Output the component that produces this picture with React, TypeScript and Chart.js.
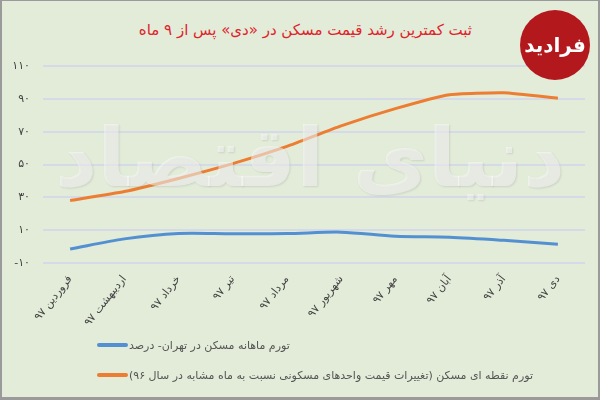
import React, { useEffect, useRef } from 'react';
import Chart from 'chart.js/auto';

// دسته‌ها و داده‌ها (خوانده شده از تصویر)
const months = ['فروردین ۹۷', 'اردیبهشت ۹۷', 'خرداد ۹۷', 'تیر ۹۷', 'مرداد ۹۷', 'شهریور ۹۷', 'مهر ۹۷', 'آبان ۹۷', 'آذر ۹۷', 'دی ۹۷'];
const monthlyInflation = [-1.5, 4.7, 8, 7.8, 7.9, 8.8, 6.3, 5.7, 3.8, 1.4];
const pointInflation = [28, 33.5, 41.5, 50.5, 61, 73.5, 84, 92.5, 93.7, 90.4];
const seriesLabels = [
    'تورم ماهانه مسکن در تهران- درصد',
    'تورم نقطه ای مسکن (تغییرات قیمت واحدهای مسکونی نسبت به ماه مشابه در سال ۹۶)',
];
const seriesColors = ['#5390d2', '#ed7d31'];
const yTicks = [-10, 10, 30, 50, 70, 90, 110];
const persianDigits = ['۰', '۱', '۲', '۳', '۴', '۵', '۶', '۷', '۸', '۹'];

const titleText = 'ثبت کمترین رشد قیمت مسکن در «دی» پس از ۹ ماه';

const toPersian = (v: number | string) => String(v).replace(/\d/g, d => persianDigits[+d]);

const FONT = '"DejaVu Sans", sans-serif';

const App = () => {
    const chartContainer = useRef<HTMLCanvasElement>(null);

    useEffect(() => {
        let myChart: Chart<"line", number[], string> | null = null;

        if (chartContainer.current) {
            const ctx = chartContainer.current.getContext('2d');

            if (ctx) {
                myChart = new Chart(ctx, {
                    type: 'line',
                    data: {
                        labels: months,
                        datasets: [
                            {
                                label: seriesLabels[0],
                                data: monthlyInflation,
                                borderColor: seriesColors[0],
                                borderWidth: 3,
                                pointRadius: 0,
                                tension: 0.3,
                            },
                            {
                                label: seriesLabels[1],
                                data: pointInflation,
                                borderColor: seriesColors[1],
                                borderWidth: 3,
                                pointRadius: 0,
                                tension: 0.15,
                            },
                        ],
                    },
                    options: {
                        animation: false,
                        responsive: false,
                        maintainAspectRatio: false,
                        layout: { padding: { top: 66, right: 15, bottom: 57, left: 0 } },
                        plugins: {
                            legend: { display: false },
                            tooltip: { enabled: false },
                        },
                        scales: {
                            x: {
                                offset: true,
                                grid: { display: false },
                                border: { display: false },
                                ticks: {
                                    autoSkip: false,
                                    minRotation: 52,
                                    maxRotation: 52,
                                    padding: 2,
                                    color: '#444',
                                    font: { family: FONT, size: 11 },
                                },
                                afterFit: (scale) => { scale.height = 80; },
                            },
                            y: {
                                min: -10,
                                max: 110,
                                grid: { color: 'rgba(210,215,235,0.85)', lineWidth: 2, drawTicks: false },
                                border: { display: false },
                                ticks: {
                                    padding: 13,
                                    color: '#444',
                                    font: { family: FONT, size: 11 },
                                    callback: (v) => toPersian(v),
                                },
                                afterBuildTicks: (axis) => { axis.ticks = yTicks.map(v => ({ value: v })); },
                                afterFit: (scale) => { scale.width = 43; },
                            },
                        },
                    },
                });
            }
        }

        return () => {
            if (myChart && typeof myChart.destroy === 'function') {
                myChart.destroy();
            }
        };
    }, []);

    return (
        <div style={{ position: 'fixed', left: 0, top: 0, width: 600, height: 400, background: '#e2ecd9', overflow: 'hidden', fontFamily: FONT }}>
            <div dir="rtl" style={{ position: 'absolute', right: 128, top: 21, color: '#e0232b', fontSize: 15, whiteSpace: 'nowrap' }}>
                {titleText}
            </div>
            <canvas ref={chartContainer} width={600} height={400} style={{ position: 'absolute', left: 0, top: 0 }}></canvas>
            <div dir="rtl" style={{ position: 'absolute', left: 85, top: 110, width: 480, textAlign: 'center', fontSize: 82, fontWeight: 'bold', color: 'rgba(255,255,255,0.5)', whiteSpace: 'nowrap', pointerEvents: 'none', textShadow: '1px 1px 2px rgba(120,120,120,0.2)' }}>
                دنیای اقتصاد
            </div>
            <div style={{ position: 'absolute', left: 520, top: 10, width: 70, height: 70, borderRadius: '50%', background: '#b3181d', color: '#fff', display: 'flex', alignItems: 'center', justifyContent: 'center', fontWeight: 'bold', fontSize: 20 }}>
                <span dir="rtl">فرادید</span>
            </div>
            {seriesLabels.map((label, i) => (
                <div key={i} style={{ position: 'absolute', left: 97, top: 336 + i * 30, display: 'flex', alignItems: 'center', height: 18 }}>
                    <div style={{ width: 31, height: 4, borderRadius: 2, background: seriesColors[i] }}></div>
                    <span dir="rtl" style={{ fontSize: 11, color: '#555', whiteSpace: 'nowrap', marginLeft: 1 }}>{label}</span>
                </div>
            ))}
            <div style={{ position: 'absolute', inset: 0, borderStyle: 'solid', borderColor: '#9a9a9a', borderWidth: '1px 2px 3px 2px', pointerEvents: 'none' }}></div>
        </div>
    );
};

export default App;
